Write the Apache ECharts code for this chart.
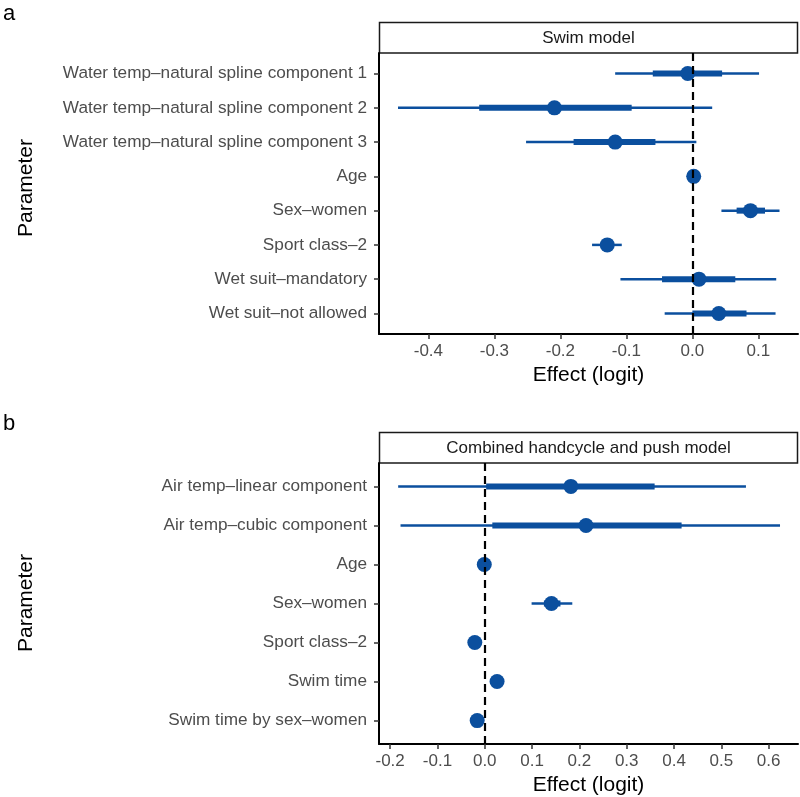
<!DOCTYPE html>
<html>
<head>
    <meta charset="utf-8">
    <script src="https://cdn.jsdelivr.net/npm/echarts@6/dist/echarts.min.js"></script>
</head>
<body style="margin:0;">
<div id="myChart" style="width: 800px; height: 797px;"></div>

<script type="text/javascript">
    var chart = echarts.init(document.getElementById('myChart'));

    // a: swim model
    var namesA = ['Water temp–natural spline component 1', 'Water temp–natural spline component 2',
        'Water temp–natural spline component 3', 'Age', 'Sex–women', 'Sport class–2',
        'Wet suit–mandatory', 'Wet suit–not allowed'];
    var medA = [-0.007, -0.209, -0.117, 0.002, 0.088, -0.129, 0.010, 0.040];
    var lo95A = [-0.117, -0.446, -0.252, 0.000, 0.044, -0.152, -0.109, -0.042];
    var hi95A = [0.101, 0.030, 0.006, 0.004, 0.132, -0.107, 0.127, 0.126];
    var lo50A = [-0.060, -0.323, -0.180, 0.001, 0.067, -0.138, -0.046, 0.000];
    var hi50A = [0.045, -0.092, -0.056, 0.003, 0.110, -0.120, 0.065, 0.082];
    var ticksA = [-0.4, -0.3, -0.2, -0.1, 0.0, 0.1];

    // b: combined handcycle and push model
    var namesB = ['Air temp–linear component', 'Air temp–cubic component', 'Age', 'Sex–women',
        'Sport class–2', 'Swim time', 'Swim time by sex–women'];
    var medB = [0.182, 0.214, -0.001, 0.141, -0.021, 0.026, -0.016];
    var lo95B = [-0.183, -0.178, -0.004, 0.099, -0.025, 0.022, -0.020];
    var hi95B = [0.552, 0.624, 0.002, 0.185, -0.017, 0.030, -0.012];
    var lo50B = [0.003, 0.016, -0.002, 0.125, -0.023, 0.024, -0.018];
    var hi50B = [0.359, 0.416, 0.000, 0.160, -0.019, 0.028, -0.014];
    var ticksB = [-0.2, -0.1, 0.0, 0.1, 0.2, 0.3, 0.4, 0.5, 0.6];

    var blue = '#0b4f9e';
    var labelFont = 'Liberation Sans, Arial, sans-serif';

    function rangeData(lo, hi) {
        return lo.map(function (v, i) { return [v, hi[i], i + 1]; });
    }

    function pointData(med) {
        return med.map(function (v, i) { return [v, i + 1]; });
    }

    function rangeSeries(idx, data, width) {
        return {
            type: 'custom',
            xAxisIndex: idx,
            yAxisIndex: idx,
            encode: {x: [0, 1], y: 2},
            data: data,
            silent: true,
            z: 2,
            renderItem: function (params, api) {
                var p1 = api.coord([api.value(0), api.value(2)]);
                var p2 = api.coord([api.value(1), api.value(2)]);
                return {
                    type: 'line',
                    shape: {x1: p1[0], y1: p1[1], x2: p2[0], y2: p2[1]},
                    style: {stroke: blue, lineWidth: width, lineCap: 'butt'},
                };
            },
        };
    }

    function xAxisOf(idx, min, max, ticks) {
        return {
            type: 'value',
            gridIndex: idx,
            min: min,
            max: max,
            name: 'Effect (logit)',
            nameLocation: 'middle',
            nameGap: 31,
            nameTextStyle: {color: '#000', fontSize: 21, fontFamily: labelFont},
            splitLine: {show: false},
            axisLine: {show: true, onZero: false, lineStyle: {color: '#000', width: 2}},
            axisTick: {show: true, customValues: ticks, length: 5, lineStyle: {color: '#333', width: 1.5}},
            axisLabel: {
                customValues: ticks,
                margin: 9,
                color: '#4d4d4d',
                fontSize: 17,
                fontFamily: labelFont,
                formatter: function (v) { return v.toFixed(1); },
            },
        };
    }

    function yAxisOf(idx, names) {
        var vals = names.map(function (n, i) { return i + 1; });
        return {
            type: 'value',
            gridIndex: idx,
            inverse: true,
            min: 0.4,
            max: names.length + 0.6,
            splitLine: {show: false},
            axisLine: {show: true, onZero: false, lineStyle: {color: '#000', width: 2}},
            axisTick: {show: true, customValues: vals, length: 5, lineStyle: {color: '#333', width: 1.5}},
            axisLabel: {
                customValues: vals,
                margin: 12,
                color: '#4d4d4d',
                fontSize: 17.2,
                fontFamily: labelFont,
                formatter: function (v) { return names[Math.round(v) - 1]; },
            },
        };
    }

    function zeroLine(idx) {
        return {
            type: 'scatter',
            xAxisIndex: idx,
            yAxisIndex: idx,
            data: [],
            z: 10,
            markLine: {
                silent: true,
                symbol: ['none', 'none'],
                label: {show: false},
                lineStyle: {color: '#000', type: [8, 5], width: 2.2},
                data: [{xAxis: 0}],
            },
        };
    }

    function strip(top, text) {
        return {
            type: 'group',
            children: [{
                type: 'rect',
                shape: {x: 379.5, y: top, width: 418, height: 30.5},
                style: {fill: '#fff', stroke: '#1a1a1a', lineWidth: 1.5},
            }, {
                type: 'text',
                style: {
                    x: 588.5, y: top + 15.5, text: text, fill: '#1a1a1a',
                    fontSize: 17, fontFamily: labelFont, align: 'center', verticalAlign: 'middle',
                },
            }],
        };
    }

    function sideText(x, y, text, size, rot) {
        return {
            type: 'text',
            x: x,
            y: y,
            rotation: rot || 0,
            style: {
                text: text, fill: '#000', fontSize: size, fontFamily: labelFont,
                align: rot ? 'center' : 'left', verticalAlign: 'middle',
            },
        };
    }

    var option = {
        animation: false,
        backgroundColor: '#fff',
        grid: [
            {left: 379, top: 53, width: 419, height: 281},
            {left: 379, top: 463, width: 419, height: 281},
        ],
        xAxis: [
            xAxisOf(0, -0.4748, 0.16, ticksA),
            xAxisOf(1, -0.2235, 0.662, ticksB),
        ],
        yAxis: [
            yAxisOf(0, namesA),
            yAxisOf(1, namesB),
        ],
        graphic: [
            strip(22.5, 'Swim model'),
            strip(432.5, 'Combined handcycle and push model'),
            sideText(3, 14, 'a', 22),
            sideText(3, 424, 'b', 22),
            sideText(26, 188, 'Parameter', 21, Math.PI / 2),
            sideText(26, 603, 'Parameter', 21, Math.PI / 2),
        ],
        series: [
            rangeSeries(0, rangeData(lo95A, hi95A), 2.5),
            rangeSeries(0, rangeData(lo50A, hi50A), 6),
            {
                type: 'scatter', xAxisIndex: 0, yAxisIndex: 0, data: pointData(medA),
                symbolSize: 15, itemStyle: {color: blue, opacity: 1}, z: 3, silent: true,
            },
            zeroLine(0),
            rangeSeries(1, rangeData(lo95B, hi95B), 2.5),
            rangeSeries(1, rangeData(lo50B, hi50B), 6),
            {
                type: 'scatter', xAxisIndex: 1, yAxisIndex: 1, data: pointData(medB),
                symbolSize: 15, itemStyle: {color: blue, opacity: 1}, z: 3, silent: true,
            },
            zeroLine(1),
        ],
    };

    chart.setOption(option);
</script>
</body>
</html>
